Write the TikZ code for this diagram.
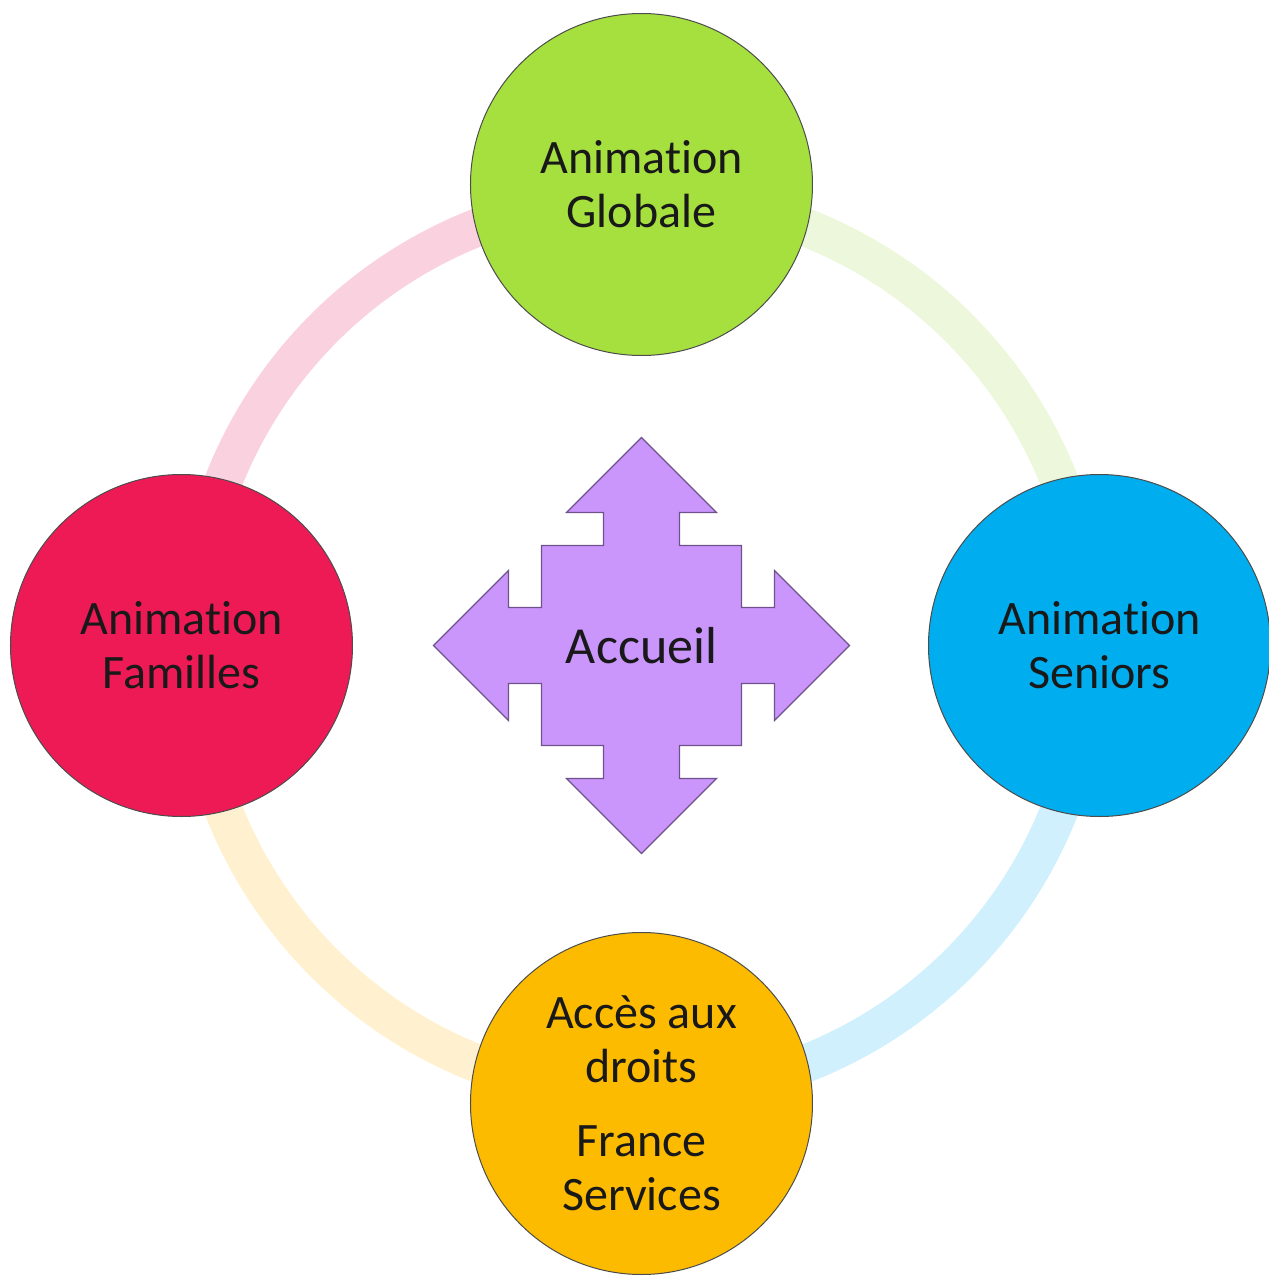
\documentclass[tikz,border=0pt]{standalone}
\usepackage{fontspec}
\setmainfont{Carlito}[Ligatures=NoCommon]
\usepackage{tikz}
\usetikzlibrary{positioning,calc}

\definecolor{globalgreen}{HTML}{A6E03E}
\definecolor{familyred}{HTML}{EE1A55}
\definecolor{seniorblue}{HTML}{00AEEF}
\definecolor{accessorange}{HTML}{FDBB00}
\definecolor{welcomepurple}{HTML}{CA96FC}
\definecolor{ringpink}{HTML}{FAD1DF}
\definecolor{ringgreen}{HTML}{EDF7DC}
\definecolor{ringblue}{HTML}{CFF0FC}
\definecolor{ringyellow}{HTML}{FFF1CF}

\begin{document}
\begin{tikzpicture}[
    x=0.5pt, y=0.5pt,
    pole/.style={circle, draw=black!70, line width=0.5pt, minimum size=171pt,
                 inner sep=0pt, align=center, text=black!90,
                 font=\fontsize{24}{27}\selectfont},
    ring/.style={line width=19pt},
    crossbox/.style={draw=black!45!welcomepurple, fill=welcomepurple, line width=0.6pt}
]
\useasboundingbox (-641.5,-630.5) rectangle (627.5,645.5);

% Ring
\draw[ring, ringgreen] (449,0) arc[start angle=0, end angle=90, radius=449];
\draw[ring, ringpink] (0,449) arc[start angle=90, end angle=180, radius=449];
\draw[ring, ringyellow] (-449,0) arc[start angle=180, end angle=270, radius=449];
\draw[ring, ringblue] (0,-449) arc[start angle=270, end angle=360, radius=449];

% Cross
\draw[crossbox] (0,208) -- (75,133) -- (38,133) -- (38,100) -- (100,100)
  -- (100,38) -- (133,38) -- (133,75) -- (208,0) -- (133,-75) -- (133,-38)
  -- (100,-38) -- (100,-100) -- (38,-100) -- (38,-133) -- (75,-133)
  -- (0,-208) -- (-75,-133) -- (-38,-133) -- (-38,-100) -- (-100,-100)
  -- (-100,-38) -- (-133,-38) -- (-133,-75) -- (-208,0) -- (-133,75)
  -- (-133,38) -- (-100,38) -- (-100,100) -- (-38,100) -- (-38,133)
  -- (-75,133) -- cycle;
\node[text=black!90, font=\fontsize{26}{30}\selectfont] (accueil) at (0,0) {Accueil};

% Nodes
\node[pole, fill=globalgreen] (globale) at (0,461) {Animation\\Globale};
\node[pole, fill=familyred] (familles) at (-460,0) {Animation\\Familles};
\node[pole, fill=seniorblue] (seniors) at (458,0) {Animation\\Seniors};
\node[pole, fill=accessorange] (acces) at (0,-458)
  {Accès aux\\droits\\[10pt]France\\Services};

\end{tikzpicture}
\end{document}
